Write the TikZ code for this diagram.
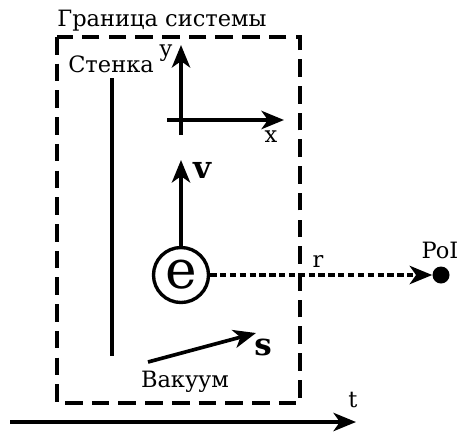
\documentclass[tikz,border=0pt]{standalone}
\usepackage{fontspec}
\setmainfont{DejaVu Serif}
\usetikzlibrary{positioning,arrows.meta}
\tikzstyle{vec} = [-{Stealth[length=16pt,width=13pt,inset=4.5pt]},line width=2.6pt]
\tikzstyle{lbl} = [inner sep=0pt,font=\fontsize{16}{18}\selectfont]
\tikzstyle{big} = [inner sep=0pt,font=\fontsize{22}{24}\selectfont\bfseries]

\begin{document}
\begin{tikzpicture}[x=0.025cm,y=-0.025cm]
    \useasboundingbox (0,0) rectangle (465,435);
    % system boundary
    \draw[line width=2.8pt,dash pattern=on 12.5pt off 6.5pt] (57,37) rectangle (300,403);
    \node[lbl] (border) at (162,21) {Граница системы};
    % wall
    \node[lbl] (wall) at (111,64) {Стенка};
    \coordinate (wtop) at (112,78);
    \coordinate (wbot) at (112,356);
    \draw[line width=2.4pt] (wtop) -- (wbot);
    % axes
    \coordinate (ybeg) at (181,135);
    \coordinate (yend) at (181,45);
    \coordinate (xbeg) at (167,120);
    \coordinate (xend) at (284,120);
    \draw[vec] (ybeg) -- (yend);
    \draw[vec] (xbeg) -- (xend);
    \node[lbl] (ylab) at (166,53) {y};
    \node[lbl] (xlab) at (271,137) {x};
    % electron
    \node[circle,draw,line width=2.4pt,minimum size=55*0.025cm,inner sep=0pt,
          font=\fontsize{38}{40}\selectfont] (e) at (181,275) {e};
    \coordinate (vend) at (181,160);
    \draw[vec] (e.north) -- (vend);
    \node[big] (vlab) at (202,170) {v};
    % point of interest
    \node[circle,fill,minimum size=17*0.025cm,inner sep=0pt] (poi) at (441,275) {};
    \node[lbl] (poilab) at (440,250) {PoI};
    \draw[vec,dash pattern=on 4.5pt off 2.5pt] (e.east) -- (poi.west);
    \node[lbl] (rlab) at (318,261) {r};
    % spin
    \coordinate (sbeg) at (148,362);
    \coordinate (send) at (256,333);
    \draw[vec] (sbeg) -- (send);
    \node[big] (slab) at (263,347) {s};
    \node[lbl] (vac) at (185,382) {Вакуум};
    % time
    \coordinate (tbeg) at (10,422);
    \coordinate (tend) at (356,422);
    \draw[vec] (tbeg) -- (tend);
    \node[lbl] (tlab) at (353,400) {t};
\end{tikzpicture}
\end{document}
